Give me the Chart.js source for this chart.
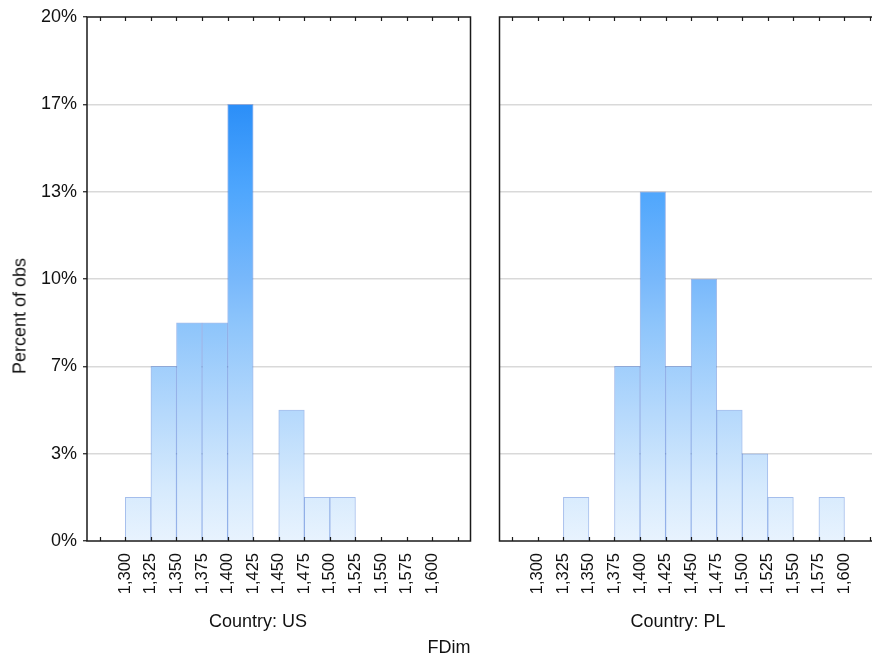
<!DOCTYPE html>
<html>
<head>
<meta charset="utf-8">
<script src="https://cdn.jsdelivr.net/npm/chart.js@4/dist/chart.umd.min.js"></script>
<style>
  html, body { margin: 0; padding: 0; background: #fff; overflow: hidden; width: 872px; height: 659px; }
  #wrap { position: relative; width: 872px; height: 659px; overflow: hidden;
          font-family: "Liberation Sans", Arial, sans-serif; color: #111; }
  canvas { position: absolute; top: 0; }
  .lbl { position: absolute; white-space: nowrap; transform: translate(-50%, -50%); font-size: 18px; }
</style>
</head>
<body>
<div id="wrap">
  <canvas id="us" width="480" height="659" style="left:0"></canvas>
  <canvas id="pl" width="400" height="659" style="left:490px"></canvas>
  <div class="lbl" style="left:20px;top:316px;transform:translate(-50%,-50%) rotate(-90deg)">Percent of obs</div>
  <div class="lbl" style="left:258px;top:621px">Country: US</div>
  <div class="lbl" style="left:678px;top:621px">Country: PL</div>
  <div class="lbl" style="left:449px;top:647px">FDim</div>
</div>
<script>
// Histogram bins of FDim (lower edge of each 25-wide bin)
const binStarts = [1275, 1300, 1325, 1350, 1375, 1400, 1425, 1450, 1475, 1500, 1525, 1550, 1575, 1600];
const binWidth = 25;

// Percent of all observations falling in each bin
const usPercent = [0, 1.67, 6.67, 8.33, 8.33, 16.67, 0, 5, 1.67, 1.67, 0, 0, 0, 0];
const plPercent = [0, 0, 1.67, 0, 6.67, 13.33, 6.67, 10, 5, 3.33, 1.67, 0, 1.67, 0];

// Axis ticks
const xTickValues = [1275, 1300, 1325, 1350, 1375, 1400, 1425, 1450, 1475, 1500, 1525, 1550, 1575, 1600, 1625];
const xTickLabels = ['', '1,300', '1,325', '1,350', '1,375', '1,400', '1,425', '1,450', '1,475', '1,500', '1,525', '1,550', '1,575', '1,600', ''];
const yTickValues = [0, 10 / 3, 20 / 3, 10, 40 / 3, 50 / 3, 20];
const yTickLabels = ['0%', '3%', '7%', '10%', '13%', '17%', '20%'];

const FONT = '"Liberation Sans", Arial, sans-serif';

// Vertical fill that darkens with height inside the plot area
function barFill(ctx) {
  const chart = ctx.chart;
  const area = chart.chartArea;
  if (!area) return '#9ccafb';
  if (!chart.$fill || chart.$fillTop !== area.top || chart.$fillBottom !== area.bottom) {
    const g = chart.ctx.createLinearGradient(0, area.bottom, 0, area.top);
    g.addColorStop(0.00, '#e8f3fe');
    g.addColorStop(0.10, '#d6eafd');
    g.addColorStop(0.25, '#b4d8fc');
    g.addColorStop(0.42, '#8cc4fb');
    g.addColorStop(0.50, '#78b8fb');
    g.addColorStop(0.67, '#4ea6fd');
    g.addColorStop(0.83, '#2c8ff8');
    g.addColorStop(1.00, '#1a82f5');
    chart.$fill = g;
    chart.$fillTop = area.top;
    chart.$fillBottom = area.bottom;
  }
  return chart.$fill;
}

// Panel frame plus inward tick marks on the top and bottom edges
const framePlugin = {
  id: 'frame',
  afterDatasetsDraw(chart) {
    const { ctx, chartArea: a, scales: { x } } = chart;
    ctx.save();
    ctx.strokeStyle = '#1a1a1a';
    ctx.lineWidth = 1.5;
    ctx.strokeRect(a.left, a.top, a.right - a.left, a.bottom - a.top);
    ctx.lineWidth = 1.2;
    ctx.beginPath();
    xTickValues.forEach(v => {
      const px = Math.round(x.getPixelForValue(v)) + 0.5;
      ctx.moveTo(px, a.bottom); ctx.lineTo(px, a.bottom - 4);
      ctx.moveTo(px, a.top); ctx.lineTo(px, a.top + 4);
    });
    ctx.stroke();
    ctx.restore();
  }
};

function makePanel(id, values, showY, padLeft, padRight) {
  return new Chart(document.getElementById(id), {
    type: 'bar',
    data: {
      datasets: [{
        data: binStarts.map((b, i) => ({ x: b + binWidth / 2, y: values[i] })),
        backgroundColor: barFill,
        borderColor: 'rgba(40,100,210,0.42)',
        borderWidth: { top: 1, left: 1, right: 1, bottom: 0 },
        barPercentage: 1,
        categoryPercentage: 1
      }]
    },
    plugins: [framePlugin],
    options: {
      responsive: false,
      animation: false,
      devicePixelRatio: 1,
      layout: { padding: { top: 17, right: padRight, left: padLeft, bottom: 0 } },
      plugins: { legend: { display: false }, tooltip: { enabled: false } },
      scales: {
        x: {
          type: 'linear',
          min: 1262.5,
          max: 1637.5,
          offset: false,
          grid: { display: false, drawTicks: false },
          border: { display: false },
          afterBuildTicks(s) { s.ticks = xTickValues.map(v => ({ value: v })); },
          afterFit(s) { s.height = 118; s.paddingLeft = 0; s.paddingRight = 0; },
          ticks: {
            autoSkip: false, minRotation: 90, maxRotation: 90, padding: 12,
            color: '#111', font: { size: 16.5, family: FONT },
            callback: (v, i) => xTickLabels[i]
          }
        },
        y: {
          min: 0,
          max: 20,
          afterBuildTicks(s) { s.ticks = yTickValues.map(v => ({ value: v })); },
          afterFit(s) { s.width = showY ? 87 : 0; s.paddingTop = 0; s.paddingBottom = 0; },
          border: { display: false },
          grid: {
            color: c => (c.index === 0 || c.index === yTickValues.length - 1) ? 'rgba(0,0,0,0)' : '#d9d9d9',
            lineWidth: 1.5,
            drawTicks: showY,
            tickLength: 4,
            tickColor: '#1a1a1a',
            tickWidth: 1.2
          },
          ticks: {
            display: showY, padding: 6,
            color: '#111', font: { size: 18, family: FONT },
            callback: (v, i) => yTickLabels[i]
          }
        }
      }
    }
  });
}

makePanel('us', usPercent, true, 0, 9.5);
makePanel('pl', plPercent, false, 9.5, 7.2);
</script>
</body>
</html>
